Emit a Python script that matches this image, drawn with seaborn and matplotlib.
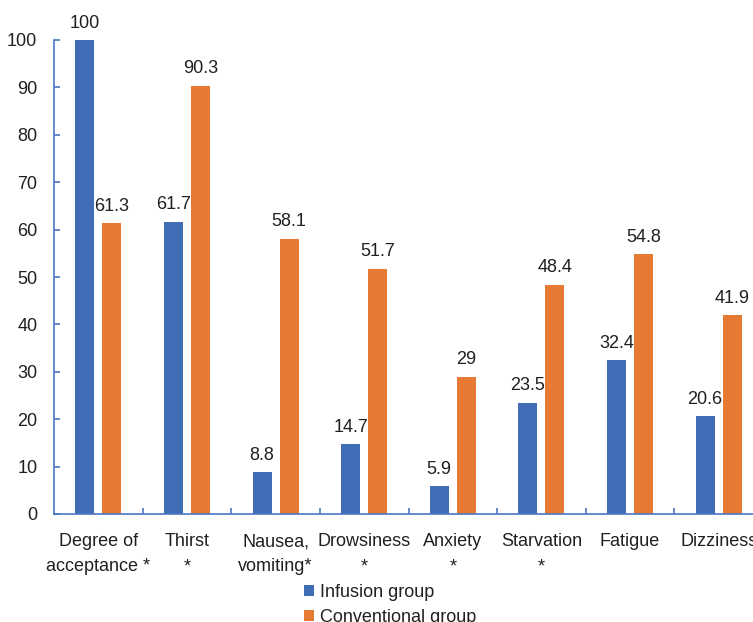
import matplotlib
matplotlib.use("Agg")
import matplotlib.pyplot as plt
from matplotlib.ticker import FixedLocator
import seaborn as sns
import pandas as pd

# Symptom categories (two-line labels, * marks a significant difference)
categories = [
    "Degree of\nacceptance *",
    "Thirst\n*",
    "Nausea,\nvomiting*",
    "Drowsiness\n*",
    "Anxiety\n*",
    "Starvation\n*",
    "Fatigue",
    "Dizziness",
]
infusion = [100, 61.7, 8.8, 14.7, 5.9, 23.5, 32.4, 20.6]
conventional = [61.3, 90.3, 58.1, 51.7, 29, 48.4, 54.8, 41.9]
groups = ["Infusion group", "Conventional group"]
y_ticks = [0, 10, 20, 30, 40, 50, 60, 70, 80, 90, 100]

df = pd.DataFrame({
    "Category": categories * 2,
    "Group": [groups[0]] * len(categories) + [groups[1]] * len(categories),
    "Value": infusion + conventional,
})

sns.set_theme(style="white")
plt.rcParams["font.family"] = ["Liberation Sans", "DejaVu Sans"]

BLUE = "#406DB6"
ORANGE = "#E67A35"
AXIS = "#4A76C2"
TEXT = "#231F20"
FS = 13

fig = plt.figure(figsize=(7.53, 6.22), dpi=100)
ax = fig.add_axes([54 / 753, 108 / 622, 709 / 753, 474 / 622])

sns.barplot(
    data=df, x="Category", y="Value", hue="Group",
    order=categories, hue_order=groups,
    palette=[BLUE, ORANGE], saturation=1, errorbar=None,
    width=0.61, gap=0.3, linewidth=0, ax=ax,
)

# value labels above each bar
for cont, vals in zip(ax.containers, [infusion, conventional]):
    for rect, v in zip(cont.patches, vals):
        ax.annotate(
            f"{v:g}",
            xy=(rect.get_x() + rect.get_width() / 2, rect.get_height()),
            xytext=(0, 9), textcoords="offset points",
            ha="center", va="baseline", fontsize=FS, color=TEXT,
        )

ax.set_ylim(0, 100)
ax.set_xlim(-0.5, len(categories) - 0.5)
ax.set_yticks(y_ticks)
ax.set_xlabel("")
ax.set_ylabel("")

for side in ("top", "right"):
    ax.spines[side].set_visible(False)
for side in ("left", "bottom"):
    ax.spines[side].set_color(AXIS)
    ax.spines[side].set_linewidth(1.2)

ax.tick_params(axis="y", direction="in", length=4.5, width=1.2, color=AXIS,
               labelsize=FS, labelcolor=TEXT, pad=12, left=True)
ax.tick_params(axis="x", which="major", length=0, labelsize=FS,
               labelcolor=TEXT, pad=14)
ax.xaxis.set_minor_locator(FixedLocator([i + 0.5 for i in range(len(categories))]))
ax.tick_params(axis="x", which="minor", direction="in", length=4, width=1.2,
               color=AXIS, bottom=True)
for lbl in ax.get_xticklabels():
    lbl.set_linespacing(1.6)

handles, labels = ax.get_legend_handles_labels()
ax.get_legend().remove()
fig.legend(
    handles, labels, loc="upper left", bbox_to_anchor=(304 / 753, 1 - 584 / 622),
    frameon=False, fontsize=FS, handlelength=0.55, handleheight=0.55,
    handletextpad=0.35, labelspacing=0.45, borderpad=0, borderaxespad=0,
    labelcolor=TEXT,
)

fig.savefig("out.png", dpi=100)
